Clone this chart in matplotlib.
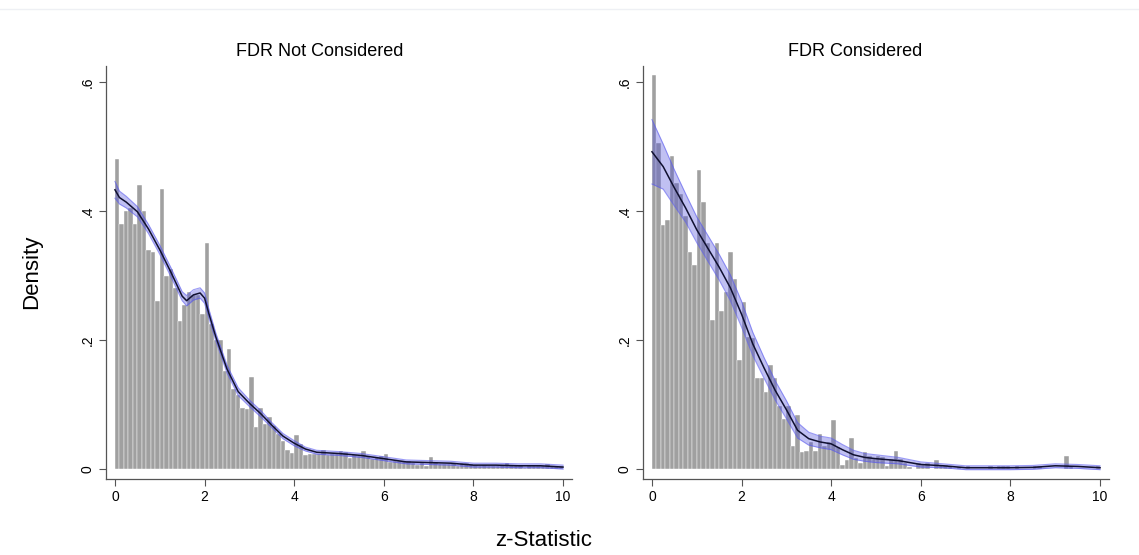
import numpy as np
import matplotlib.pyplot as plt

plt.rcParams['font.family'] = ['Liberation Sans', 'DejaVu Sans']

# histogram: 100 bins of width 0.1 on [0, 10]
bin_width = 0.1
bin_edges = np.arange(0, 10, bin_width)

dens_not = [0.48, 0.38, 0.40, 0.405, 0.38, 0.44, 0.40, 0.34, 0.337, 0.26,
            0.435, 0.30, 0.31, 0.28, 0.23, 0.255, 0.275, 0.27, 0.27, 0.24,
            0.35, 0.225, 0.20, 0.20, 0.152, 0.186, 0.124, 0.115, 0.094, 0.093,
            0.142, 0.065, 0.095, 0.07, 0.08, 0.066, 0.054, 0.043, 0.03, 0.025,
            0.053, 0.039, 0.022, 0.024, 0.024, 0.024, 0.029, 0.021, 0.024, 0.024,
            0.028, 0.026, 0.017, 0.021, 0.02, 0.028, 0.02, 0.015, 0.019, 0.02,
            0.024, 0.011, 0.013, 0.013, 0.013, 0.013, 0.01, 0.006, 0.01, 0.004,
            0.018, 0.011, 0.008, 0.008, 0.008, 0.01, 0.005, 0.009, 0.009, 0.008,
            0.006, 0.004, 0.006, 0.005, 0.005, 0.005, 0.006, 0.009, 0.006, 0.006,
            0.006, 0.001, 0.005, 0.005, 0.005, 0.005, 0.008, 0.004, 0.004, 0.004]

dens_fdr = [0.611, 0.505, 0.378, 0.386, 0.485, 0.443, 0.427, 0.392, 0.337, 0.316,
            0.464, 0.414, 0.351, 0.231, 0.351, 0.245, 0.275, 0.337, 0.294, 0.169,
            0.259, 0.204, 0.203, 0.141, 0.141, 0.119, 0.161, 0.141, 0.098, 0.077,
            0.098, 0.035, 0.084, 0.027, 0.028, 0.042, 0.028, 0.055, 0.035, 0.042,
            0.076, 0.034, 0.006, 0.014, 0.048, 0.017, 0.01, 0.027, 0.02, 0.015,
            0.02, 0.019, 0.005, 0.016, 0.028, 0.015, 0.009, 0.003, 0.0, 0.009,
            0.006, 0.01, 0.0, 0.014, 0.006, 0.006, 0.005, 0.0, 0.003, 0.0,
            0.004, 0.0, 0.0, 0.0, 0.0, 0.004, 0.0, 0.004, 0.004, 0.004,
            0.0, 0.004, 0.0, 0.0, 0.0, 0.005, 0.005, 0.0, 0.0, 0.0,
            0.0, 0.0, 0.02, 0.004, 0.0, 0.0, 0.0, 0.0, 0.0, 0.004]

# kernel density estimate with confidence band
kde_x_not = [0, 0.1, 0.25, 0.5, 0.75, 1.0, 1.25, 1.5, 1.6, 1.75, 1.9, 2.0, 2.1,
             2.25, 2.5, 2.75, 3.0, 3.25, 3.5, 3.75, 4.0, 4.25, 4.5, 5, 5.5, 6,
             6.5, 7, 7.5, 8, 8.5, 9, 9.5, 10]
kde_y_not = [0.433, 0.421, 0.414, 0.399, 0.372, 0.34, 0.305, 0.268, 0.261, 0.27,
             0.273, 0.265, 0.24, 0.205, 0.155, 0.12, 0.102, 0.086, 0.068, 0.051,
             0.04, 0.031, 0.026, 0.024, 0.021, 0.016, 0.011, 0.010, 0.009, 0.006,
             0.006, 0.005, 0.005, 0.003]
kde_ci_not = [0.013, 0.01, 0.009, 0.008, 0.007, 0.007, 0.007, 0.007, 0.008, 0.008,
              0.008, 0.008, 0.007, 0.006, 0.006, 0.006, 0.005, 0.005, 0.004, 0.004,
              0.004, 0.003, 0.003, 0.003, 0.003, 0.003, 0.003, 0.003, 0.003, 0.003,
              0.003, 0.003, 0.003, 0.003]

kde_x_fdr = [0, 0.25, 0.5, 0.75, 1.0, 1.25, 1.5, 1.75, 2.0, 2.25, 2.5, 2.75, 3.0,
             3.25, 3.5, 3.75, 4.0, 4.25, 4.5, 4.75, 5.0, 5.5, 6, 6.5, 7, 7.5, 8,
             8.5, 9, 9.5, 10]
kde_y_fdr = [0.492, 0.469, 0.436, 0.405, 0.371, 0.342, 0.313, 0.281, 0.24, 0.194,
             0.157, 0.122, 0.092, 0.06, 0.047, 0.042, 0.039, 0.03, 0.022, 0.018,
             0.016, 0.013, 0.007, 0.005, 0.002, 0.002, 0.002, 0.0025, 0.005, 0.004,
             0.002]
kde_ci_fdr = [0.05, 0.035, 0.028, 0.022, 0.02, 0.02, 0.02, 0.02, 0.02, 0.018,
              0.016, 0.015, 0.014, 0.012, 0.01, 0.009, 0.009, 0.008, 0.007, 0.006,
              0.006, 0.005, 0.004, 0.003, 0.003, 0.003, 0.003, 0.003, 0.003, 0.003,
              0.003]

titles = ['FDR Not Considered', 'FDR Considered']
yticks = [0, 0.2, 0.4, 0.6]
ytick_labels = ['0', '.2', '.4', '.6']
xticks = [0, 2, 4, 6, 8, 10]

W, H = 1139, 555
fig = plt.figure(figsize=(W / 100, H / 100), dpi=100)

panels = [
    (106, 320, dens_not, kde_x_not, kde_y_not, kde_ci_not),
    (643, 855, dens_fdr, kde_x_fdr, kde_y_fdr, kde_ci_fdr),
]

for (left_px, title_px, dens, kx, ky, kci), title in zip(panels, titles):
    ax = fig.add_axes([left_px / W, 1 - 479 / H, 466 / W, (479 - 66) / H])
    ax.bar(bin_edges, dens, width=bin_width, align='edge', color='#a0a0a0',
           edgecolor='white', linewidth=0.3, zorder=1)
    kx = np.array(kx)
    ky = np.array(ky)
    kci = np.array(kci)
    ax.fill_between(kx, ky - kci, ky + kci, color='#4b4bdc', alpha=0.35,
                    linewidth=0, zorder=2)
    ax.plot(kx, ky - kci, color='#5a5af0', alpha=0.6, lw=0.8, zorder=3)
    ax.plot(kx, ky + kci, color='#5a5af0', alpha=0.6, lw=0.8, zorder=3)
    ax.plot(kx, ky, color='#101030', lw=1.1, zorder=4)

    ax.set_xlim(-0.2, 10.2)
    ax.set_ylim(-0.0155, 0.625)
    ax.set_xticks(xticks)
    ax.set_xticklabels([str(t) for t in xticks], fontsize=10)
    ax.set_yticks(yticks)
    ax.set_yticklabels(ytick_labels, fontsize=10, rotation=90, va='center')
    ax.tick_params(length=5, width=0.8, color='#555555', pad=3)
    for s in ['top', 'right']:
        ax.spines[s].set_visible(False)
    for s in ['left', 'bottom']:
        ax.spines[s].set_color('#555555')
        ax.spines[s].set_linewidth(0.9)
    fig.text(title_px / W, 1 - 52 / H, title, fontsize=13,
             ha='center', va='center')

fig.text(32 / W, 1 - 272 / H, 'Density', rotation=90, fontsize=16,
         ha='center', va='center')
fig.text(544 / W, 1 - 541 / H, 'z-Statistic', fontsize=16,
         ha='center', va='center')
fig.add_artist(plt.Line2D([0, 1], [1 - 9 / H, 1 - 9 / H], color='#eef0f4', lw=1))

fig.savefig('out.png', dpi=100)
